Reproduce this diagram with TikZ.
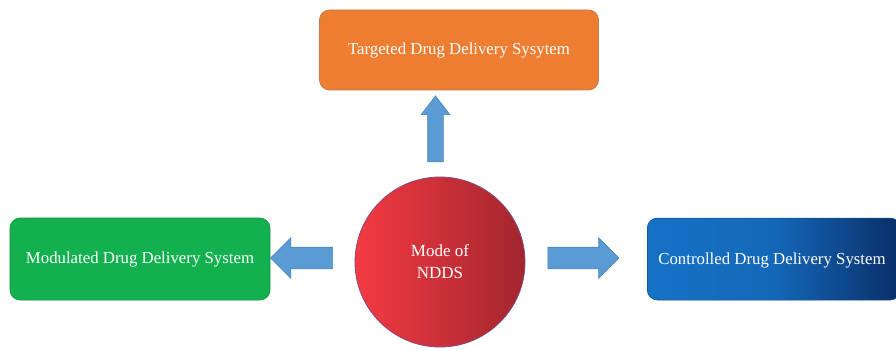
\documentclass[tikz,border=0pt]{standalone}
\usepackage{fontspec}
\setmainfont{Liberation Serif}
\usetikzlibrary{shapes.arrows,shadings}
\definecolor{orangeC}{HTML}{ED7D31}
\definecolor{greenC}{HTML}{12B04E}
\definecolor{blueL}{HTML}{1672C6}
\definecolor{blueD}{HTML}{0A2E68}
\definecolor{redL}{HTML}{F43A42}
\definecolor{redD}{HTML}{A2262E}
\definecolor{arrowC}{HTML}{5B9BD5}
\definecolor{arrowB}{HTML}{4A84BC}
\tikzset{
  box/.style={rounded corners=10pt, text=white, font=\fontsize{16.8}{20}\selectfont, inner sep=0pt},
  fatarrow/.style={single arrow, fill=arrowC, draw=arrowB, line width=0.6pt, inner xsep=0pt, text width=0pt},
}
\begin{document}
\begin{tikzpicture}[x=1pt,y=-1pt]
\useasboundingbox (0,0) rectangle (896,350);
\begin{scope}
\clip (0,0) rectangle (896,350);
% boxes
\node[box, fill=orangeC, draw=orangeC!60!gray, line width=0.8pt, minimum width=279pt, minimum height=80pt] (top) at (459,50) {Targeted Drug Delivery Sysytem};
\node[box, fill=greenC, draw=greenC!85!black, line width=0.6pt, minimum width=260pt, minimum height=82pt] (left) at (140,259) {Modulated Drug Delivery System};
\node[box, left color=blueL, right color=blueD, middle color=blueL!85!blueD, draw=blueL!70!black, line width=0.5pt, minimum width=253pt, minimum height=82pt, anchor=west] (right) at (647,259) {};
\node[text=white, font=\fontsize{16.8}{20}\selectfont] (righttext) at (772,260) {Controlled Drug Delivery System};
% circle
\node[circle, left color=redL, right color=redD, draw=violet!40!gray, line width=0.8pt, minimum size=170pt, inner sep=0pt, text=white, align=center, font=\fontsize{17}{22}\selectfont] (c) at (440,262) {Mode of\\NDDS};
% arrows
\node[fatarrow, minimum height=66pt, inner ysep=7.5pt, single arrow head extend=6.5pt, single arrow tip angle=75, rotate=90] (au) at (435.5,134) {};
\node[fatarrow, minimum height=62pt, inner ysep=10.5pt, single arrow head extend=9.5pt, single arrow tip angle=90, shape border rotate=180] (al) at (307,258) {};
\node[fatarrow, minimum height=71pt, inner ysep=10.5pt, single arrow head extend=9.5pt, single arrow tip angle=90, shape border rotate=0] (ar) at (578,258) {};
\end{scope}
\end{tikzpicture}
\end{document}
